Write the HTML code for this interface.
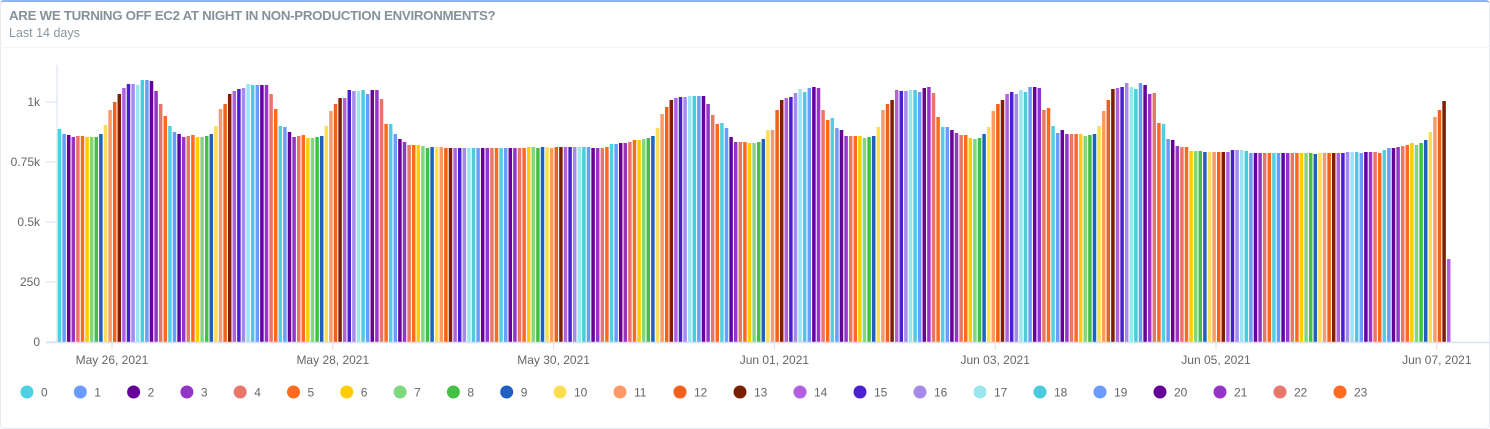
<!DOCTYPE html>
<html><head><meta charset="utf-8">
<style>
html,body{margin:0;padding:0;background:#fff;}
body{width:1490px;height:428px;overflow:hidden;position:relative;font-family:"Liberation Sans",sans-serif;}
.frame{position:absolute;left:0;top:0;width:1488px;height:426px;border:1px solid #e6eaf0;border-top:2px solid #8fb4f0;border-radius:4px;}
.t{position:absolute;left:9px;top:8px;font-size:13.3px;font-weight:bold;color:#86929a;letter-spacing:-0.3px;}
.s{position:absolute;left:9px;top:26px;font-size:12.5px;color:#8b969e;}
.sep{position:absolute;left:0;top:47px;width:1490px;height:1px;background:#f1f3f6;}
</style></head><body>
<div class="frame"></div>
<div class="t">ARE WE TURNING OFF EC2 AT NIGHT IN NON-PRODUCTION ENVIRONMENTS?</div>
<div class="s">Last 14 days</div>
<div class="sep"></div>
<svg id="c" width="1490" height="428" style="position:absolute;left:0;top:0" xmlns="http://www.w3.org/2000/svg"></svg>
<script>
var cols=["#4dd0e1","#6a9cff","#660099","#9535c8","#e8776a","#ff6a20","#ffcc00","#7ed87e","#44c044","#2060c0","#ffdd55","#ff9966","#f0601a","#7a2000","#b060e0","#4a20d0","#a58ae8","#99e6ef","#4ccbdd","#6a9cff","#660099","#9535c8","#e8776a","#ff6a20"];
var tops=[
129,134,135,137,136,136,137,137,137,134,125,110,102,94,88,84,84,85,80,80,81,91,104,116,
126,132,134,137,136,135,137,137,136,134,126,109,104,94,91,89,88,84,85,85,85,85,94,109,
126,127,132,137,136,135,138,138,137,136,126,111,104,98,98,90,91,91,90,94,90,90,99,124,
124,134,139,142,145,145,145,146,148,147,147,147,148,148,148,148,148,148,148,148,148,148,148,148,
148,148,148,148,148,148,147,147,148,147,147,148,147,147,147,147,147,147,147,147,148,148,148,147,
144,144,143,143,142,140,140,139,138,136,128,114,107,100,98,97,97,96,96,96,96,104,115,124,
123,128,137,142,142,142,143,143,142,139,130,130,110,100,98,97,93,89,92,88,87,88,110,120,
118,128,130,136,136,136,136,138,137,136,127,110,104,100,90,91,91,90,90,92,88,87,93,117,
127,127,130,133,135,135,138,139,138,134,127,111,104,100,94,92,94,90,92,87,87,88,110,108,
126,133,130,134,134,134,134,136,135,134,126,111,100,89,88,87,83,87,89,83,85,94,93,123,
124,139,140,146,147,147,151,151,151,152,152,152,152,152,152,150,150,150,151,153,153,153,153,153,
153,153,153,153,153,153,153,153,153,154,153,153,153,153,153,153,152,152,152,153,152,152,152,153,
150,148,148,147,146,145,143,145,143,140,132,117,110,101,259];
var s='';
s+='<line x1="57" y1="65" x2="57" y2="342" stroke="#d9e0ef" stroke-width="1"/>';
var yt=[[102,"1k"],[162,"0.75k"],[222,"0.5k"],[282,"250"],[342,"0"]];
yt.forEach(function(t){s+='<line x1="46" y1="'+t[0]+'" x2="57" y2="'+t[0]+'" stroke="#d9e0ef"/>';
s+='<text x="40" y="'+(t[0]+4)+'" text-anchor="end" font-size="12" fill="#666" font-family="Liberation Sans,sans-serif">'+t[1]+'</text>';});
for(var n=0;n<tops.length;n++){var cx=59.5+4.6*n;
s+='<rect x="'+(cx-1.75).toFixed(2)+'" y="'+tops[n]+'" width="3.5" height="'+(342-tops[n])+'" fill="'+cols[n%24]+'"/>';}
s+='<line x1="46" y1="342.5" x2="1490" y2="342.5" stroke="#d9e0ef" stroke-width="1.5"/>';
var xl=["May 26, 2021","May 28, 2021","May 30, 2021","Jun 01, 2021","Jun 03, 2021","Jun 05, 2021","Jun 07, 2021"];
for(var i=0;i<7;i++){var x=112+220.8*i;
s+='<line x1="'+x+'" y1="343" x2="'+x+'" y2="350" stroke="#d9e0ef"/>';
s+='<text x="'+x+'" y="364" text-anchor="middle" font-size="12" fill="#666" font-family="Liberation Sans,sans-serif">'+xl[i]+'</text>';}
for(var k=0;k<24;k++){var c=k<10?27+k*53.3:560+(k-10)*60;
s+='<circle cx="'+c+'" cy="392" r="6.5" fill="'+cols[k]+'"/>';
s+='<text x="'+(c+14)+'" y="396.5" font-size="12" fill="#666" font-family="Liberation Sans,sans-serif">'+k+'</text>';}
document.getElementById('c').innerHTML=s;
</script>
</body></html>
